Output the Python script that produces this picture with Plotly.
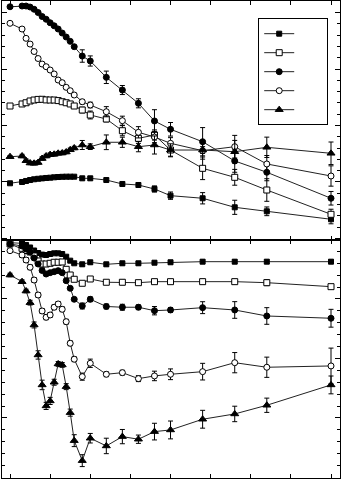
import plotly.graph_objects as go

# shared x positions (tick marks every 5 units, 0..40)
x = [0, 1.5, 2, 2.5, 3, 3.5, 4, 4.5, 5, 5.5, 6, 6.5, 7, 7.5, 8,
     9, 10, 12, 14, 16, 18, 20, 24, 28, 32, 40]
x_ticks = [0, 5, 10, 15, 20, 25, 30, 35, 40]

# ---- top panel series ----
top_sq_filled = [0.977, 1.000, 1.018, 1.035, 1.048, 1.057, 1.064, 1.071, 1.076, 1.083, 1.088, 1.092, 1.094, 1.094, 1.094,
                 1.065, 1.065, 1.035, 0.965, 0.947, 0.876, 0.758, 0.712, 0.552, 0.481, 0.340]
top_sq_filled_err = [0.02] * 15 + [0.03, 0.03, 0.03, 0.03, 0.04, 0.055, 0.065, 0.10, 0.125, 0.077, 0.08]

top_sq_open = [2.345, 2.381, 2.403, 2.434, 2.451, 2.462, 2.464, 2.453, 2.451, 2.451, 2.441, 2.421, 2.403, 2.381, 2.345,
               2.274, 2.186, 2.115, 1.908, 1.773, 1.832, 1.566, 1.242, 1.083, 0.858, 0.428]
top_sq_open_err = [0.02] + [0.03] * 14 + [0.05, 0.07, 0.05, 0.09, 0.09, 0.09, 0.12, 0.20, 0.14, 0.20, 0.09]

top_ci_filled = [4.102, 4.115, 4.115, 4.097, 4.058, 4.000, 3.929, 3.881, 3.819, 3.765, 3.708, 3.637, 3.566, 3.490, 3.395,
                 3.230, 3.142, 2.853, 2.628, 2.393, 2.080, 1.933, 1.713, 1.372, 1.172, 0.712]
top_ci_filled_err = [0.02] * 15 + [0.11, 0.09, 0.11, 0.08, 0.08, 0.20, 0.12, 0.25, 0.20, 0.15, 0.12]

top_ci_open = [3.809, 3.708, 3.543, 3.442, 3.310, 3.186, 3.088, 3.041, 2.982, 2.912, 2.805, 2.758, 2.676, 2.616, 2.540,
               2.421, 2.363, 2.244, 2.085, 1.880, 1.796, 1.685, 1.554, 1.625, 1.319, 1.106]
top_ci_open_err = [0.02] + [0.03] * 14 + [0.04, 0.05, 0.09, 0.08, 0.10, 0.10, 0.10, 0.15, 0.20, 0.15, 0.18]

top_tri = [1.448, 1.460, 1.377, 1.336, 1.331, 1.345, 1.416, 1.460, 1.485, 1.490, 1.508, 1.513, 1.531, 1.570, 1.602,
           1.655, 1.625, 1.703, 1.703, 1.625, 1.655, 1.566, 1.566, 1.536, 1.614, 1.508]
top_tri_err = [0.02] + [0.03] * 14 + [0.08, 0.05, 0.13, 0.09, 0.09, 0.16, 0.11, 0.06, 0.20, 0.18, 0.20]

# ---- bottom panel series ----
bot_sq_filled = [3.946, 3.936, 3.908, 3.866, 3.815, 3.773, 3.746, 3.739, 3.756, 3.768, 3.768, 3.756, 3.711, 3.644, 3.600,
                 3.583, 3.617, 3.583, 3.600, 3.600, 3.610, 3.617, 3.627, 3.627, 3.627, 3.627]
bot_sq_filled_err = [0.02] * 15 + [0.03] * 11

bot_sq_open = [3.924, 3.852, 3.815, 3.790, 3.723, 3.639, 3.588, 3.588, 3.600, 3.617, 3.617, 3.622, 3.499, 3.403, 3.331,
               3.264, 3.336, 3.281, 3.281, 3.274, 3.291, 3.291, 3.291, 3.291, 3.274, 3.207]
bot_sq_open_err = [0.02] * 15 + [0.03, 0.03, 0.03, 0.04, 0.03, 0.03, 0.03, 0.04, 0.04, 0.05, 0.03]

bot_ci_filled = [3.924, 3.891, 3.840, 3.790, 3.689, 3.588, 3.479, 3.420, 3.442, 3.459, 3.476, 3.442, 3.308, 3.180, 2.995,
                 2.882, 2.995, 2.874, 2.861, 2.861, 2.803, 2.815, 2.854, 2.815, 2.714, 2.676]
bot_ci_filled_err = [0.02] + [0.03] * 14 + [0.05, 0.04, 0.04, 0.05, 0.04, 0.07, 0.04, 0.10, 0.14, 0.14, 0.15]

bot_ci_open = [3.812, 3.739, 3.655, 3.533, 3.319, 3.067, 2.798, 2.692, 2.731, 2.861, 2.916, 2.827, 2.618, 2.255, 1.987,
               1.694, 1.919, 1.734, 1.761, 1.661, 1.706, 1.734, 1.778, 1.929, 1.852, 1.874]
bot_ci_open_err = [0.02] + [0.04] * 14 + [0.06, 0.07, 0.04, 0.04, 0.05, 0.08, 0.09, 0.14, 0.17, 0.17, 0.30]

bot_tri = [3.403, 3.291, 3.134, 2.938, 2.563, 2.059, 1.555, 1.202, 1.286, 1.600, 1.908, 1.891, 1.526, 1.089, 0.618,
           0.282, 0.659, 0.529, 0.686, 0.642, 0.770, 0.798, 0.978, 1.067, 1.213, 1.555]
bot_tri_err = [0.03, 0.03, 0.03, 0.04, 0.05, 0.07, 0.08, 0.06, 0.06, 0.05, 0.04, 0.04, 0.05, 0.06, 0.10,
               0.10, 0.08, 0.13, 0.12, 0.07, 0.14, 0.15, 0.15, 0.13, 0.12, 0.15]

styles = [
    dict(symbol="square", size=5, color="black"),
    dict(symbol="square", size=6, color="white"),
    dict(symbol="circle", size=6, color="black"),
    dict(symbol="circle", size=6, color="white"),
    dict(symbol="triangle-up", size=7, color="black"),
]
top_series = [(top_sq_filled, top_sq_filled_err), (top_sq_open, top_sq_open_err),
              (top_ci_filled, top_ci_filled_err), (top_ci_open, top_ci_open_err),
              (top_tri, top_tri_err)]
bot_series = [(bot_sq_filled, bot_sq_filled_err), (bot_sq_open, bot_sq_open_err),
              (bot_ci_filled, bot_ci_filled_err), (bot_ci_open, bot_ci_open_err),
              (bot_tri, bot_tri_err)]

fig = go.Figure()
for i, (st, (yv, ev)) in enumerate(zip(styles, top_series)):
    fig.add_trace(go.Scatter(
        x=x, y=yv, xaxis="x2", yaxis="y2", mode="lines+markers",
        name="\u00a0" * 8, legendgroup=str(i), showlegend=True,
        line=dict(color="#222", width=1),
        marker=dict(symbol=st["symbol"], size=st["size"], color=st["color"],
                    line=dict(color="black", width=1)),
        error_y=dict(type="data", array=ev, color="black", thickness=1, width=2.5),
    ))
for i, (st, (yv, ev)) in enumerate(zip(styles, bot_series)):
    fig.add_trace(go.Scatter(
        x=x, y=yv, xaxis="x", yaxis="y", mode="lines+markers",
        legendgroup=str(i), showlegend=False,
        line=dict(color="#222", width=1),
        marker=dict(symbol=st["symbol"], size=st["size"], color=st["color"],
                    line=dict(color="black", width=1)),
        error_y=dict(type="data", array=ev, color="black", thickness=1, width=2.5),
    ))

xax = dict(range=[-1.0, 41.12], tickvals=x_ticks, ticks="inside", ticklen=4, tickcolor="black",
           showticklabels=False, showline=True, linecolor="black", linewidth=1, mirror="ticks",
           showgrid=False, zeroline=False)
yax = dict(dtick=1, tick0=0, ticks="inside", ticklen=5, tickcolor="black",
           minor=dict(dtick=0.2, ticks="inside", ticklen=3, tickcolor="black", showgrid=False),
           showticklabels=False, showline=True, linecolor="black", linewidth=1, mirror="ticks",
           showgrid=False, zeroline=False)

fig.update_layout(
    width=341, height=480,
    margin=dict(l=2, r=1, t=1, b=2),
    paper_bgcolor="white", plot_bgcolor="white",
    xaxis=dict(domain=[0, 1], anchor="y", **xax),
    yaxis=dict(domain=[0, 0.5], anchor="x", range=[-0.01, 4.0], **yax),
    xaxis2=dict(domain=[0, 1], anchor="y2", **xax),
    yaxis2=dict(domain=[0.5, 1], anchor="x2", range=[-0.018, 4.204], **yax),
    showlegend=True,
    legend=dict(x=0.758, y=0.964, xanchor="left", yanchor="top",
                bgcolor="white", bordercolor="black", borderwidth=1,
                font=dict(family="DejaVu Sans", size=9, color="black"),
                tracegroupgap=0, itemwidth=30),
)

fig.write_html("out.html")
